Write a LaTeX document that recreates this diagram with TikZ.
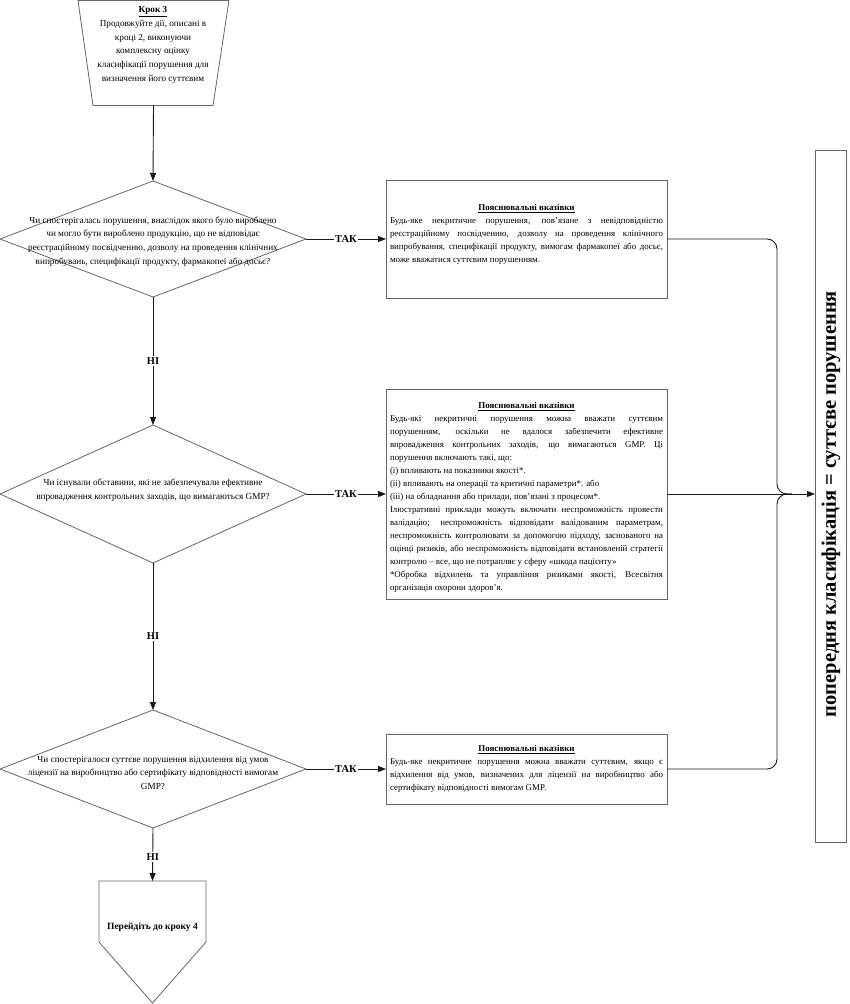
\documentclass[tikz,border=0pt]{standalone}
\usepackage{fontspec}
\setmainfont{Liberation Serif}
\usetikzlibrary{arrows.meta,shapes.geometric,calc}
\newcommand\bxj[1]{\par\hbox to\hsize{\spaceskip=0pt\xspaceskip=0pt #1}}
\newcommand\bxl[1]{\par\hbox{#1}}
\newcommand\bxc[1]{\par\hbox to\hsize{\hss\bfseries\underline{#1}\hss}}
\begin{document}
\begin{tikzpicture}[x=1pt,y=-1pt,
  shp/.style={draw=black!60, line width=0.8pt},
  dia/.style={shp, diamond, minimum width=306pt, inner sep=0pt, outer sep=0pt},
  box/.style={shp, rectangle, inner sep=0pt, outer sep=0pt, minimum width=281pt},
  hold/.style={draw=none, inner sep=0pt, outer sep=0pt},
  conn/.style={draw=black!90, line width=0.9pt},
  arr/.style={conn, -{Triangle[length=8pt,width=6pt]}},
  lab/.style={font=\fontsize{10.5}{12}\selectfont\bfseries, fill=white, inner sep=1.5pt},
  dtxt/.style={align=center, font=\fontsize{9.2}{13.7}\selectfont, inner sep=0pt},
  btxt/.style={text width=273pt, align=justify, font=\fontsize{8.9}{13}\selectfont, inner sep=0pt, anchor=north},
]
\useasboundingbox (0,0) rectangle (850,1004);

% top trapezoid
\node[hold, minimum width=151pt, minimum height=105pt] (t3) at (153.5,53) {};
\draw[shp] (t3.north west) -- (t3.north east) -- ($(t3.south east)+(-16,0)$) -- ($(t3.south west)+(15,0)$) -- cycle;
\node[dtxt] (t3t) at (153,45) {{\bfseries\underline{Крок 3}}\\Продовжуйте дії, описані в\\кроці 2, виконуючи\\комплексну оцінку\\класифікації порушення для\\визначення його суттєвим};

% diamonds
\node[dia, minimum height=116pt] (d1) at (153,239) {};
\node[dtxt] (d1t) at (153,241.5) {Чи спостерігалась порушення, внаслідок якого було вироблено\\чи могло бути вироблено продукцію, що не відповідає\\реєстраційному посвідченню, дозволу на проведення клінічних\\випробувань, специфікації продукту, фармакопеї або досьє?};

\node[dia, minimum height=138pt] (d2) at (153,494) {};
\node[dtxt] (d2t) at (153,490.5) {Чи існували обставини, які не забезпечували ефективне\\впровадження контрольних заходів, що вимагаються GMP?};

\node[dia, minimum height=118pt] (d3) at (153,769) {};
\node[dtxt] (d3t) at (153,773) {Чи спостерігалося суттєве порушення відхилення від умов\\ліцензії на виробництво або сертифікату відповідності вимогам\\GMP?};

% bottom pentagon
\node[hold, minimum width=107pt, minimum height=122pt] (p4) at (152.5,942) {};
\draw[shp] (p4.north west) -- (p4.north east) -- (p4.east) -- (p4.south) -- (p4.west) -- cycle;
\node[font=\fontsize{9.5}{11}\selectfont\bfseries, inner sep=0pt] (p4t) at (152.5,927) {Перейдіть до кроку 4};

% explanation boxes
\node[box, minimum height=118pt] (b1) at (526.5,239) {};
\node[btxt] (b1t) at (526.5,197.5) {%
\bxc{Пояснювальні вказівки}
\bxj{Будь-яке некритичне порушення, пов’язане з невідповідністю}
\bxj{реєстраційному посвідченню, дозволу на проведення клінічного}
\bxj{випробування, специфікації продукту, вимогам фармакопеї або досьє,}
\bxl{може вважатися суттєвим порушенням.}};

\node[box, minimum height=210pt] (b2) at (526.5,494) {};
\node[btxt] (b2t) at (526.5,395.5) {%
\bxc{Пояснювальні вказівки}
\bxj{Будь-які некритичні порушення можна вважати суттєвим}
\bxj{порушенням, оскільки не вдалося забезпечити ефективне}
\bxj{впровадження контрольних заходів, що вимагаються GMP. Ці}
\bxl{порушення включають такі, що:}
\bxl{(i) впливають на показники якості*.}
\bxl{(ii) впливають на операції та критичні параметри*. або}
\bxl{(iii) на обладнання або прилади, пов’язані з процесом*.}
\bxj{Ілюстративні приклади можуть включати неспроможність провести}
\bxj{валідацію; неспроможність відповідати валідованим параметрам,}
\bxj{неспроможність контролювати за допомогою підходу, заснованого на}
\bxj{оцінці ризиків, або неспроможність відповідати встановленій стратегії}
\bxl{контролю – все, що не потрапляє у сферу «шкода пацієнту»}
\bxj{*Обробка відхилень та управління ризиками якості, Всесвітня}
\bxl{організація охорони здоров’я.}};

\node[box, minimum height=70pt] (b3) at (526.5,769) {};
\node[btxt] (b3t) at (526.5,738.5) {%
\bxc{Пояснювальні вказівки}
\bxj{Будь-яке некритичне порушення можна вважати суттєвим, якщо є}
\bxj{відхилення від умов, визначених для ліцензії на виробництво або}
\bxl{сертифікату відповідності вимогам GMP.}};

% right result box
\node[box, minimum width=31pt, minimum height=692pt] (rb) at (830.5,496) {};
\node[rotate=90, font=\fontsize{20.5}{24}\selectfont\bfseries, inner sep=0pt] (rbt) at (831,504) {попередня класифікація = суттєве порушення};

% vertical flow
\draw[arr] (t3.south) -- (d1.north);
\draw[arr] (d1.south) -- node[lab] {НІ} (d2.north);
\draw[arr] (d2.south) -- node[lab] {НІ} (d3.north);
\draw[arr] (d3.south) -- node[lab, pos=0.55] {НІ} (p4.north);

% yes branches
\draw[arr] (d1.east) -- node[lab] {ТАК} (b1.west);
\draw[arr] (d2.east) -- node[lab] {ТАК} (b2.west);
\draw[arr] (d3.east) -- node[lab] {ТАК} (b3.west);

% merge into result
\coordinate (mg) at (777,494);
\coordinate (jn) at (792,494);
\draw[conn, rounded corners=10pt] (b1.east) -| (mg) -- (jn);
\draw[conn, rounded corners=10pt] (b3.east) -| (mg) -- (jn);
\draw[arr] (b2.east) -- (b2.east -| rb.west);
\end{tikzpicture}
\end{document}
